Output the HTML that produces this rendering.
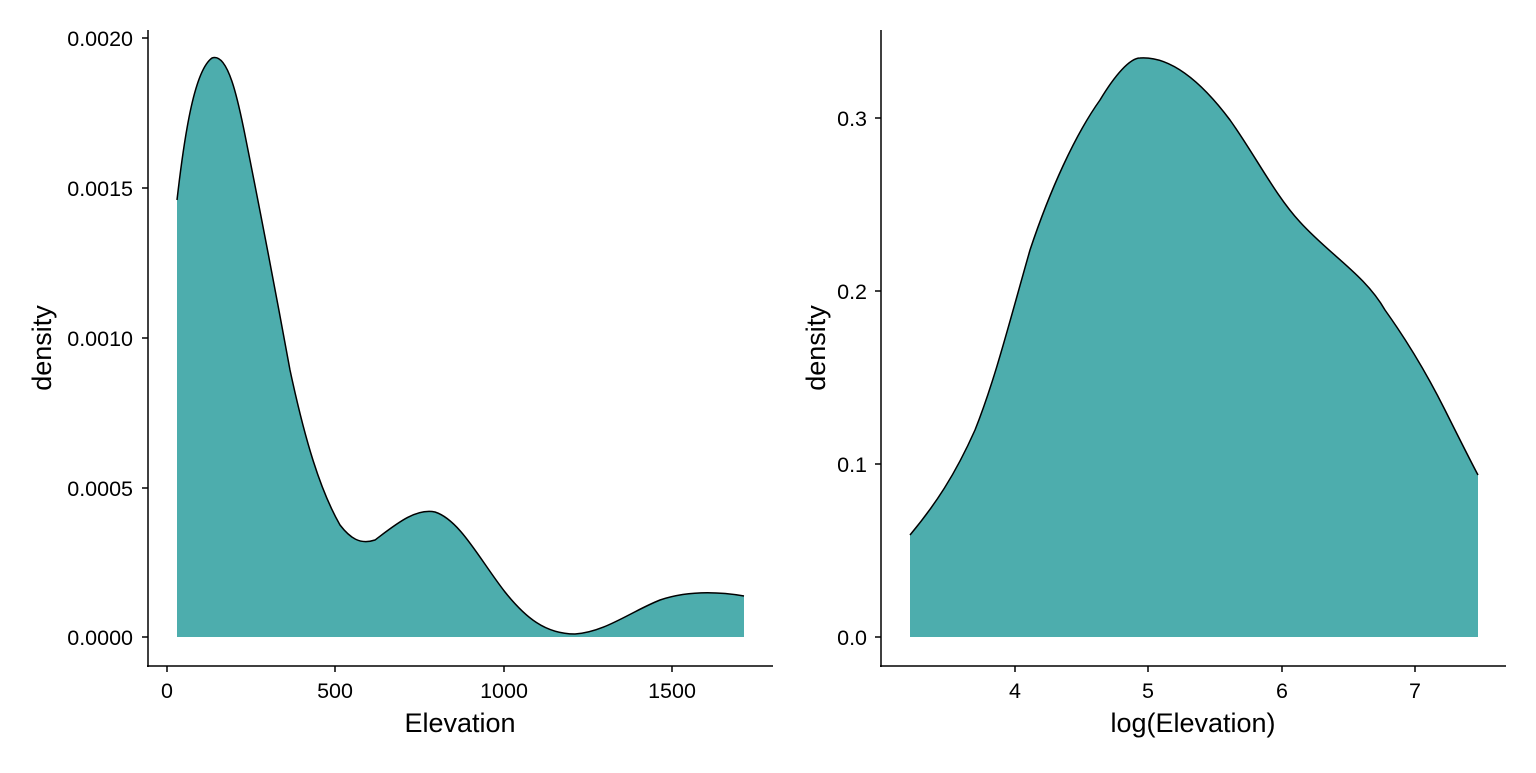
<!DOCTYPE html>
<html><head><style>
body{margin:0;background:#fff}
svg text{font-family:"Liberation Sans",sans-serif;fill:#000}
</style></head><body>
<svg width="1536" height="768" viewBox="0 0 1536 768" xmlns="http://www.w3.org/2000/svg">
<!-- Left panel -->
<path d="M177,637 L177,200 C185,130 195,70 212,58 C228,52 238,100 245,135 C258,200 268,250 290,370 C305,440 320,490 340,525 C350,538 360,545 375,540 C395,525 415,508 435,512 C460,520 480,560 505,592 C525,617 545,634 575,634 C605,632 630,612 660,600 C690,590 720,592 744,596 L744,637 Z" fill="#4DADAD"/>
<path d="M177,200 C185,130 195,70 212,58 C228,52 238,100 245,135 C258,200 268,250 290,370 C305,440 320,490 340,525 C350,538 360,545 375,540 C395,525 415,508 435,512 C460,520 480,560 505,592 C525,617 545,634 575,634 C605,632 630,612 660,600 C690,590 720,592 744,596" fill="none" stroke="#000" stroke-width="1.5"/>
<g stroke="#000" stroke-width="1.5">
<line x1="148" y1="30" x2="148" y2="667"/>
<line x1="147" y1="666" x2="773" y2="666"/>
<line x1="142" y1="38" x2="148" y2="38"/><line x1="142" y1="188" x2="148" y2="188"/><line x1="142" y1="338" x2="148" y2="338"/><line x1="142" y1="488" x2="148" y2="488"/><line x1="142" y1="637" x2="148" y2="637"/>
<line x1="167" y1="666" x2="167" y2="672"/><line x1="335" y1="666" x2="335" y2="672"/><line x1="504" y1="666" x2="504" y2="672"/><line x1="672" y1="666" x2="672" y2="672"/>
</g>
<g font-size="21.5" text-anchor="end">
<text x="133" y="46">0.0020</text><text x="133" y="196">0.0015</text><text x="133" y="346">0.0010</text><text x="133" y="496">0.0005</text><text x="133" y="645">0.0000</text>
</g>
<g font-size="21.5" text-anchor="middle">
<text x="167" y="698">0</text><text x="335" y="698">500</text><text x="504" y="698">1000</text><text x="672" y="698">1500</text>
</g>
<text x="460" y="732" font-size="27" text-anchor="middle">Elevation</text>
<text transform="translate(51,348) rotate(-90)" font-size="27" text-anchor="middle">density</text>

<!-- Right panel -->
<path d="M910,637 L910,535 C935,505 955,475 975,430 C995,380 1010,320 1030,250 C1050,190 1075,135 1100,100 C1115,75 1130,58 1140,58 C1170,56 1200,80 1230,120 C1255,155 1275,195 1300,222 C1330,255 1365,275 1385,310 C1410,345 1430,380 1445,410 C1460,440 1470,460 1478,475 L1478,637 Z" fill="#4DADAD"/>
<path d="M910,535 C935,505 955,475 975,430 C995,380 1010,320 1030,250 C1050,190 1075,135 1100,100 C1115,75 1130,58 1140,58 C1170,56 1200,80 1230,120 C1255,155 1275,195 1300,222 C1330,255 1365,275 1385,310 C1410,345 1430,380 1445,410 C1460,440 1470,460 1478,475" fill="none" stroke="#000" stroke-width="1.5"/>
<g stroke="#000" stroke-width="1.5">
<line x1="881" y1="30" x2="881" y2="667"/>
<line x1="880" y1="666" x2="1506" y2="666"/>
<line x1="875" y1="118" x2="881" y2="118"/><line x1="875" y1="291" x2="881" y2="291"/><line x1="875" y1="464" x2="881" y2="464"/><line x1="875" y1="637" x2="881" y2="637"/>
<line x1="1015" y1="666" x2="1015" y2="672"/><line x1="1148" y1="666" x2="1148" y2="672"/><line x1="1282" y1="666" x2="1282" y2="672"/><line x1="1415" y1="666" x2="1415" y2="672"/>
</g>
<g font-size="21.5" text-anchor="end">
<text x="867" y="126">0.3</text><text x="867" y="299">0.2</text><text x="867" y="472">0.1</text><text x="867" y="645">0.0</text>
</g>
<g font-size="21.5" text-anchor="middle">
<text x="1015" y="698">4</text><text x="1148" y="698">5</text><text x="1282" y="698">6</text><text x="1415" y="698">7</text>
</g>
<text x="1193" y="732" font-size="27" text-anchor="middle">log(Elevation)</text>
<text transform="translate(825,348) rotate(-90)" font-size="27" text-anchor="middle">density</text>
</svg>
</body></html>
